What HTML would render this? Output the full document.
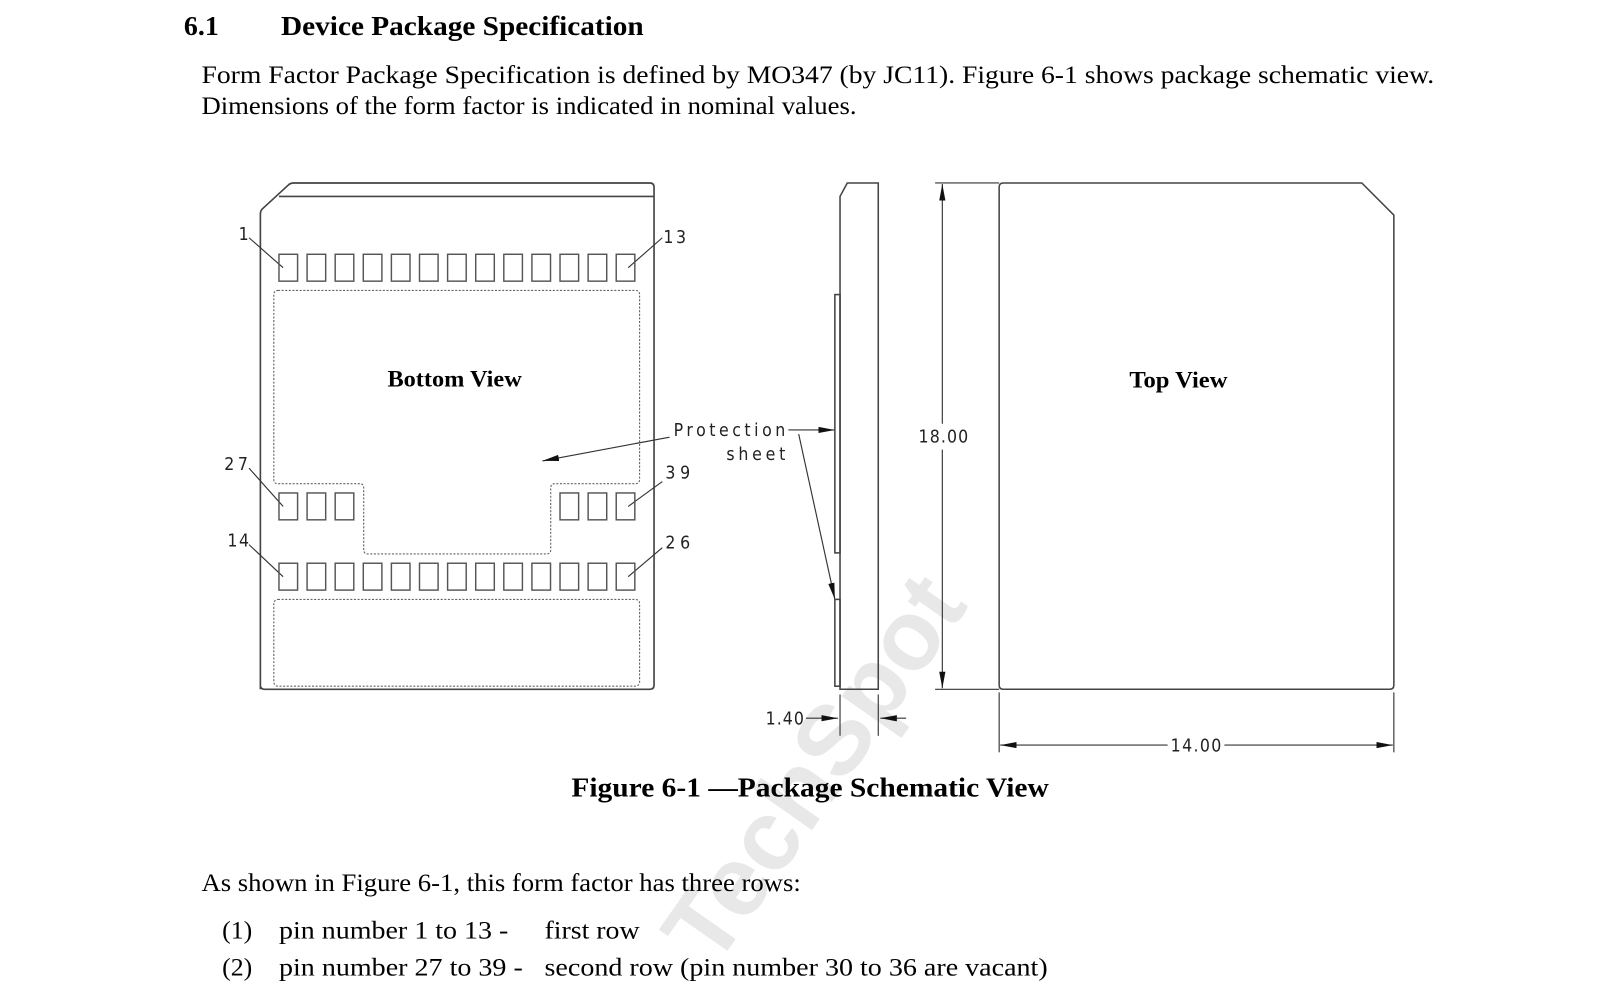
<!DOCTYPE html>
<html><head><meta charset="utf-8"><style>
html,body{margin:0;padding:0;background:#fff;}
svg{display:block;}
.s{font-family:"Liberation Serif",serif;fill:#000;}
.c{font-family:"DejaVu Sans Condensed","Liberation Sans",sans-serif;font-weight:300;fill:#222;font-size:17px;}
</style></head><body>
<svg width="1616" height="988" viewBox="0 0 1564 956" xmlns="http://www.w3.org/2000/svg">
<defs>
<marker id="ar" markerWidth="16" markerHeight="6" refX="16" refY="3" orient="auto" markerUnits="userSpaceOnUse"><path d="M0,0 L16,3 L0,6 Z" fill="#111"/></marker>
</defs>
<text style="font-family:'Liberation Sans',sans-serif;font-size:96px;font-weight:bold;fill:#e8e8e8" x="790" y="775" text-anchor="middle" transform="rotate(-55 790 745)">TechSpot</text>

<text class="s" x="178" y="34" font-size="27" font-weight="bold">6.1</text>
<text class="s" x="272" y="34" font-size="27" font-weight="bold" textLength="351" lengthAdjust="spacingAndGlyphs">Device Package Specification</text>
<text class="s" x="195" y="80" font-size="25" textLength="1193" lengthAdjust="spacingAndGlyphs">Form Factor Package Specification is defined by MO347 (by JC11). Figure 6-1 shows package schematic view.</text>
<text class="s" x="195" y="110" font-size="25" textLength="634" lengthAdjust="spacingAndGlyphs">Dimensions of the form factor is indicated in nominal values.</text>

<g fill="none" stroke="#444" stroke-width="1.6">
<path d="M252,667 L252,207 Q252,204 254,202 L279,179 Q281,177 284,177 L629,177 Q633,177 633,181 L633,663 Q633,667 629,667 L256,667 Q252,667 252,663 Z"/>
<line x1="270" y1="190" x2="633" y2="190"/>
</g>
<g fill="none" stroke="#666" stroke-width="1.1" stroke-dasharray="2,1.5">
<path d="M269,281 L615,281 Q619,281 619,285 L619,464 Q619,468 615,468 L537,468 Q533,468 533,472 L533,532 Q533,536 529,536 L356,536 Q352,536 352,532 L352,472 Q352,468 348,468 L269,468 Q265,468 265,464 L265,285 Q265,281 269,281 Z"/>
<rect x="265" y="580" width="354" height="84" rx="4"/>
</g>
<g stroke="#333" stroke-width="1.1" fill="none">
<line x1="241" y1="230" x2="274" y2="259"/>
<line x1="641" y1="230" x2="608" y2="259"/>
<line x1="241" y1="453" x2="274" y2="490"/>
<line x1="641" y1="466" x2="608" y2="490"/>
<line x1="241" y1="527" x2="274" y2="558"/>
<line x1="641" y1="530" x2="608" y2="558"/>
<line x1="648" y1="423" x2="525" y2="446" marker-end="url(#ar)"/>
<line x1="763" y1="416" x2="808" y2="416" marker-end="url(#ar)"/>
<line x1="773" y1="420" x2="808" y2="580" marker-end="url(#ar)"/>
</g>
<text class="c" x="231" y="232">1</text>
<text class="c" x="642" y="235" textLength="22">13</text>
<text class="c" x="217" y="455" textLength="23">27</text>
<text class="c" x="644" y="463" textLength="24">39</text>
<text class="c" x="220" y="529" textLength="21">14</text>
<text class="c" x="644" y="531" textLength="24">26</text>
<text class="c" x="652" y="422" textLength="108" lengthAdjust="spacing">Protection</text>
<text class="c" x="703" y="445" textLength="57" lengthAdjust="spacing">sheet</text>
<text class="s" x="375" y="374" font-size="22" font-weight="bold" textLength="130" lengthAdjust="spacingAndGlyphs">Bottom View</text>

<g fill="none" stroke="#444" stroke-width="1.5">
<path d="M813,667 L813,190 L820,177 L850,177 L850,667 Z"/>
<rect x="808" y="285" width="5" height="250"/>
<rect x="808" y="580" width="5" height="84"/>
</g>
<g stroke="#333" stroke-width="1.1" fill="none">
<line x1="813" y1="672" x2="813" y2="712"/>
<line x1="850" y1="672" x2="850" y2="712"/>
<line x1="780" y1="695" x2="811" y2="695" marker-end="url(#ar)"/>
<line x1="877" y1="695" x2="852" y2="695" marker-end="url(#ar)"/>
<line x1="905" y1="177" x2="967" y2="177"/>
<line x1="905" y1="667" x2="967" y2="667"/>
<line x1="912" y1="410" x2="912" y2="178" marker-end="url(#ar)"/>
<line x1="912" y1="435" x2="912" y2="666" marker-end="url(#ar)"/>
<line x1="967" y1="670" x2="967" y2="728"/>
<line x1="1349" y1="670" x2="1349" y2="728"/>
<line x1="1130" y1="721" x2="968" y2="721" marker-end="url(#ar)"/>
<line x1="1185" y1="721" x2="1348" y2="721" marker-end="url(#ar)"/>
</g>
<text class="c" x="741" y="701" textLength="37">1.40</text>
<text class="c" x="889" y="428" textLength="48">18.00</text>
<text class="c" x="1133" y="727" textLength="49">14.00</text>
<path d="M971,177 L1318,177 L1349,208 L1349,663 Q1349,667 1345,667 L971,667 Q967,667 967,663 L967,181 Q967,177 971,177 Z" fill="none" stroke="#444" stroke-width="1.5"/>
<text class="s" x="1093" y="375" font-size="22" font-weight="bold" textLength="95" lengthAdjust="spacingAndGlyphs">Top View</text>

<text class="s" x="553" y="771" font-size="27" font-weight="bold" textLength="462" lengthAdjust="spacingAndGlyphs">Figure 6-1 —Package Schematic View</text>
<text class="s" x="195" y="862" font-size="25" textLength="580" lengthAdjust="spacingAndGlyphs">As shown in Figure 6-1, this form factor has three rows:</text>
<text class="s" x="215" y="908" font-size="25">(1)</text>
<text class="s" x="270" y="908" font-size="25" textLength="222" lengthAdjust="spacingAndGlyphs">pin number 1 to 13 -</text>
<text class="s" x="527" y="908" font-size="25" textLength="92" lengthAdjust="spacingAndGlyphs">first row</text>
<text class="s" x="215" y="944" font-size="25">(2)</text>
<text class="s" x="270" y="944" font-size="25" textLength="236" lengthAdjust="spacingAndGlyphs">pin number 27 to 39 -</text>
<text class="s" x="527" y="944" font-size="25" textLength="487" lengthAdjust="spacingAndGlyphs">second row (pin number 30 to 36 are vacant)</text>

<g fill="none" stroke="#555" stroke-width="1.4">
<rect x="270" y="246" width="18" height="26"/><rect x="297.2" y="246" width="18" height="26"/><rect x="324.4" y="246" width="18" height="26"/><rect x="351.6" y="246" width="18" height="26"/><rect x="378.8" y="246" width="18" height="26"/><rect x="406" y="246" width="18" height="26"/><rect x="433.2" y="246" width="18" height="26"/><rect x="460.4" y="246" width="18" height="26"/><rect x="487.6" y="246" width="18" height="26"/><rect x="514.8" y="246" width="18" height="26"/><rect x="542" y="246" width="18" height="26"/><rect x="569.2" y="246" width="18" height="26"/><rect x="596.4" y="246" width="18" height="26"/>
<rect x="270" y="477" width="18" height="26"/><rect x="297.2" y="477" width="18" height="26"/><rect x="324.4" y="477" width="18" height="26"/>
<rect x="542" y="477" width="18" height="26"/><rect x="569.2" y="477" width="18" height="26"/><rect x="596.4" y="477" width="18" height="26"/>
<rect x="270" y="545" width="18" height="26"/><rect x="297.2" y="545" width="18" height="26"/><rect x="324.4" y="545" width="18" height="26"/><rect x="351.6" y="545" width="18" height="26"/><rect x="378.8" y="545" width="18" height="26"/><rect x="406" y="545" width="18" height="26"/><rect x="433.2" y="545" width="18" height="26"/><rect x="460.4" y="545" width="18" height="26"/><rect x="487.6" y="545" width="18" height="26"/><rect x="514.8" y="545" width="18" height="26"/><rect x="542" y="545" width="18" height="26"/><rect x="569.2" y="545" width="18" height="26"/><rect x="596.4" y="545" width="18" height="26"/>
</g>
</svg>
</body></html>
